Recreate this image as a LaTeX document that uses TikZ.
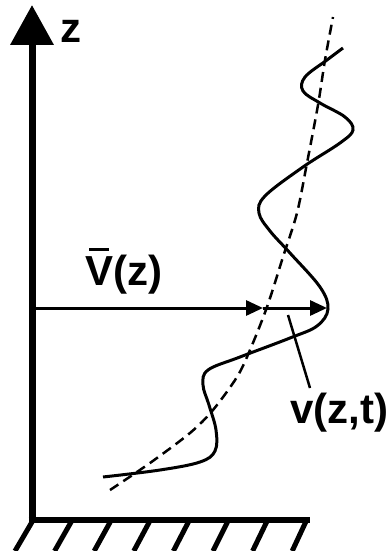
\documentclass[tikz,border=0pt]{standalone}
\usepackage{fontspec}
\setmainfont{Liberation Sans}
\usetikzlibrary{arrows.meta}

\begin{document}
\begin{tikzpicture}[x=1pt, y=-1pt,
  axis/.style={line width=7pt, -{Triangle[length=40pt, width=42pt]}},
  ground/.style={line width=6pt},
  hatch/.style={line width=5pt},
  vec/.style={line width=3pt, -{Triangle[length=17pt, width=15pt]}},
  prof/.style={line width=3pt, smooth, tension=0.6},
  mean/.style={line width=2.5pt, smooth, dash pattern=on 10pt off 6pt},
  lab/.style={font=\fontsize{42}{46}\selectfont\bfseries, inner sep=0pt, anchor=base west}
]
  \useasboundingbox (0,0) rectangle (390,551);
  % axes and wall
  \coordinate (origin) at (32,520);
  \coordinate (ztop) at (32,5);
  \coordinate (gstart) at (28.5,520);
  \coordinate (gend) at (310,520);
  \draw[axis] (origin) -- (ztop);
  \draw[ground] (gstart) -- (gend);
  \foreach \i in {0,...,7}
    \draw[hatch] (32+39.1*\i,522) -- (15+39.6*\i,551);
  \node[lab] (zlab) at (60,43) {z};
  % mean profile (dashed)
  \draw[mean] plot coordinates {(110,490) (150,463) (190,433) (213,410) (237,377)
    (250,350) (267,307) (283,257) (297,213) (307,163) (318,105) (325,60) (333,17)};
  % instantaneous profile
  \draw[prof] plot coordinates {(103,477) (160,470) (200,462) (215,451) (216,430)
    (209,405) (203,385) (208,370) (240,357) (290,338) (317,326) (328,309)
    (320,287) (290,253) (270,231) (259,213) (265,196) (303,167) (340,143)
    (353,130) (345,117) (320,103) (303,91) (305,77) (327,60) (343,48)};
  % velocity arrows
  \coordinate (vbase) at (35,308);
  \coordinate (vmean) at (263,308);
  \coordinate (vtip) at (327,308);
  \draw[vec] (vbase) -- (vmean);
  \draw[vec] (vmean) -- (vtip);
  \node[lab] (vmlab) at (85,285) {V\llap{\rule[34pt]{20pt}{3pt}\hspace{4pt}}(z)};
  \node[lab] (vtlab) at (290,423) {v(z,t)};
  \coordinate (lead) at (288,315);
  \coordinate (leadend) at (310,388);
  \draw[line width=2.5pt] (lead) -- (leadend);
\end{tikzpicture}
\end{document}
